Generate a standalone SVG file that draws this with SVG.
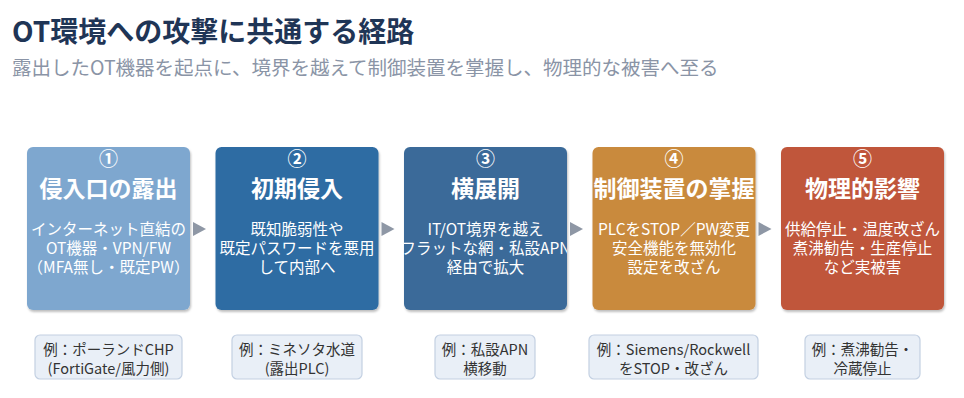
<svg xmlns="http://www.w3.org/2000/svg" width="964" height="398" viewBox="0 0 964 398">
<style>
text{font-family:"Noto Sans CJK JP","Noto Sans",sans-serif}
.title{font-size:28px;font-weight:700;fill:#1f3556}
.sub{font-size:19.5px;fill:#8a94a6}
.num{font-size:19px;font-weight:700;fill:#fff;text-anchor:middle}
.head{font-size:23px;font-weight:700;fill:#fff;text-anchor:middle}
.body{font-size:15.5px;fill:#fff;text-anchor:middle}
.ex rect{fill:#e9eff7;stroke:#c3d0e2;stroke-width:1.2}
.ex text{font-size:14.5px;fill:#333;text-anchor:middle}
.arr{fill:#8e97a5}
</style>
<defs>
<filter id="sh" x="-10%" y="-10%" width="120%" height="120%">
<feDropShadow dx="1" dy="2" stdDeviation="1.2" flood-color="#000" flood-opacity="0.25"/>
</filter>
<clipPath id="c3"><rect x="404" y="147" width="163" height="163" rx="6"/></clipPath>
</defs>
<rect width="964" height="398" fill="#fff"/>
<text class="title" x="12" y="42">OT環境への攻撃に共通する経路</text>
<text class="sub" x="12" y="75">露出したOT機器を起点に、境界を越えて制御装置を掌握し、物理的な被害へ至る</text>

<g id="step1">
<rect x="27" y="147" width="163" height="163" rx="6" fill="#7ea7cf" filter="url(#sh)"/>
<text class="num" x="108.5" y="166">①</text>
<text class="head" x="108.5" y="197">侵入口の露出</text>
<text class="body" x="108.5" y="235">インターネット直結の</text>
<text class="body" x="108.5" y="254">OT機器・VPN/FW</text>
<text class="body" x="108.5" y="273">（MFA無し・既定PW）</text>
</g>
<g id="step2">
<rect x="215.5" y="147" width="163" height="163" rx="6" fill="#2f6ca3" filter="url(#sh)"/>
<text class="num" x="297" y="166">②</text>
<text class="head" x="297" y="197">初期侵入</text>
<text class="body" x="297" y="235">既知脆弱性や</text>
<text class="body" x="297" y="254">既定パスワードを悪用</text>
<text class="body" x="297" y="273">して内部へ</text>
</g>
<g id="step3">
<rect x="404" y="147" width="163" height="163" rx="6" fill="#3b6b99" filter="url(#sh)"/>
<g clip-path="url(#c3)">
<text class="num" x="485.5" y="166">③</text>
<text class="head" x="485.5" y="197">横展開</text>
<text class="body" x="485.5" y="235">IT/OT境界を越え</text>
<text class="body" x="485.5" y="254">フラットな網・私設APN</text>
<text class="body" x="485.5" y="273">経由で拡大</text>
</g>
</g>
<g id="step4">
<rect x="592.5" y="147" width="163" height="163" rx="6" fill="#c98a3c" filter="url(#sh)"/>
<text class="num" x="674" y="166">④</text>
<text class="head" x="674" y="197">制御装置の掌握</text>
<text class="body" x="674" y="235">PLCをSTOP／PW変更</text>
<text class="body" x="674" y="254">安全機能を無効化</text>
<text class="body" x="674" y="273">設定を改ざん</text>
</g>
<g id="step5">
<rect x="781" y="147" width="163" height="163" rx="6" fill="#c0573b" filter="url(#sh)"/>
<text class="num" x="862.5" y="166">⑤</text>
<text class="head" x="862.5" y="197">物理的影響</text>
<text class="body" x="862.5" y="235">供給停止・温度改ざん</text>
<text class="body" x="862.5" y="254">煮沸勧告・生産停止</text>
<text class="body" x="862.5" y="273">など実被害</text>
</g>

<g id="connectors">
<polygon class="arr" points="193,222 206,229 193,236"/>
<polygon class="arr" points="381.5,222 394.5,229 381.5,236"/>
<polygon class="arr" points="570,222 583,229 570,236"/>
<polygon class="arr" points="758.5,222 771.5,229 758.5,236"/>
</g>

<g id="ex1" class="ex">
<rect x="35" y="335" width="147" height="44" rx="5"/>
<text x="108.5" y="355">例：ポーランドCHP</text>
<text x="108.5" y="374">(FortiGate/風力側)</text>
</g>
<g id="ex2" class="ex">
<rect x="232" y="335" width="130" height="44" rx="5"/>
<text x="297" y="355">例：ミネソタ水道</text>
<text x="297" y="374">(露出PLC)</text>
</g>
<g id="ex3" class="ex">
<rect x="435" y="335" width="100" height="44" rx="5"/>
<text x="485" y="355">例：私設APN</text>
<text x="485" y="374">横移動</text>
</g>
<g id="ex4" class="ex">
<rect x="589" y="335" width="169" height="44" rx="5"/>
<text x="673.5" y="355">例：Siemens/Rockwell</text>
<text x="673.5" y="374">をSTOP・改ざん</text>
</g>
<g id="ex5" class="ex">
<rect x="805" y="335" width="115" height="44" rx="5"/>
<text x="862.5" y="355">例：煮沸勧告・</text>
<text x="862.5" y="374">冷蔵停止</text>
</g>
</svg>
